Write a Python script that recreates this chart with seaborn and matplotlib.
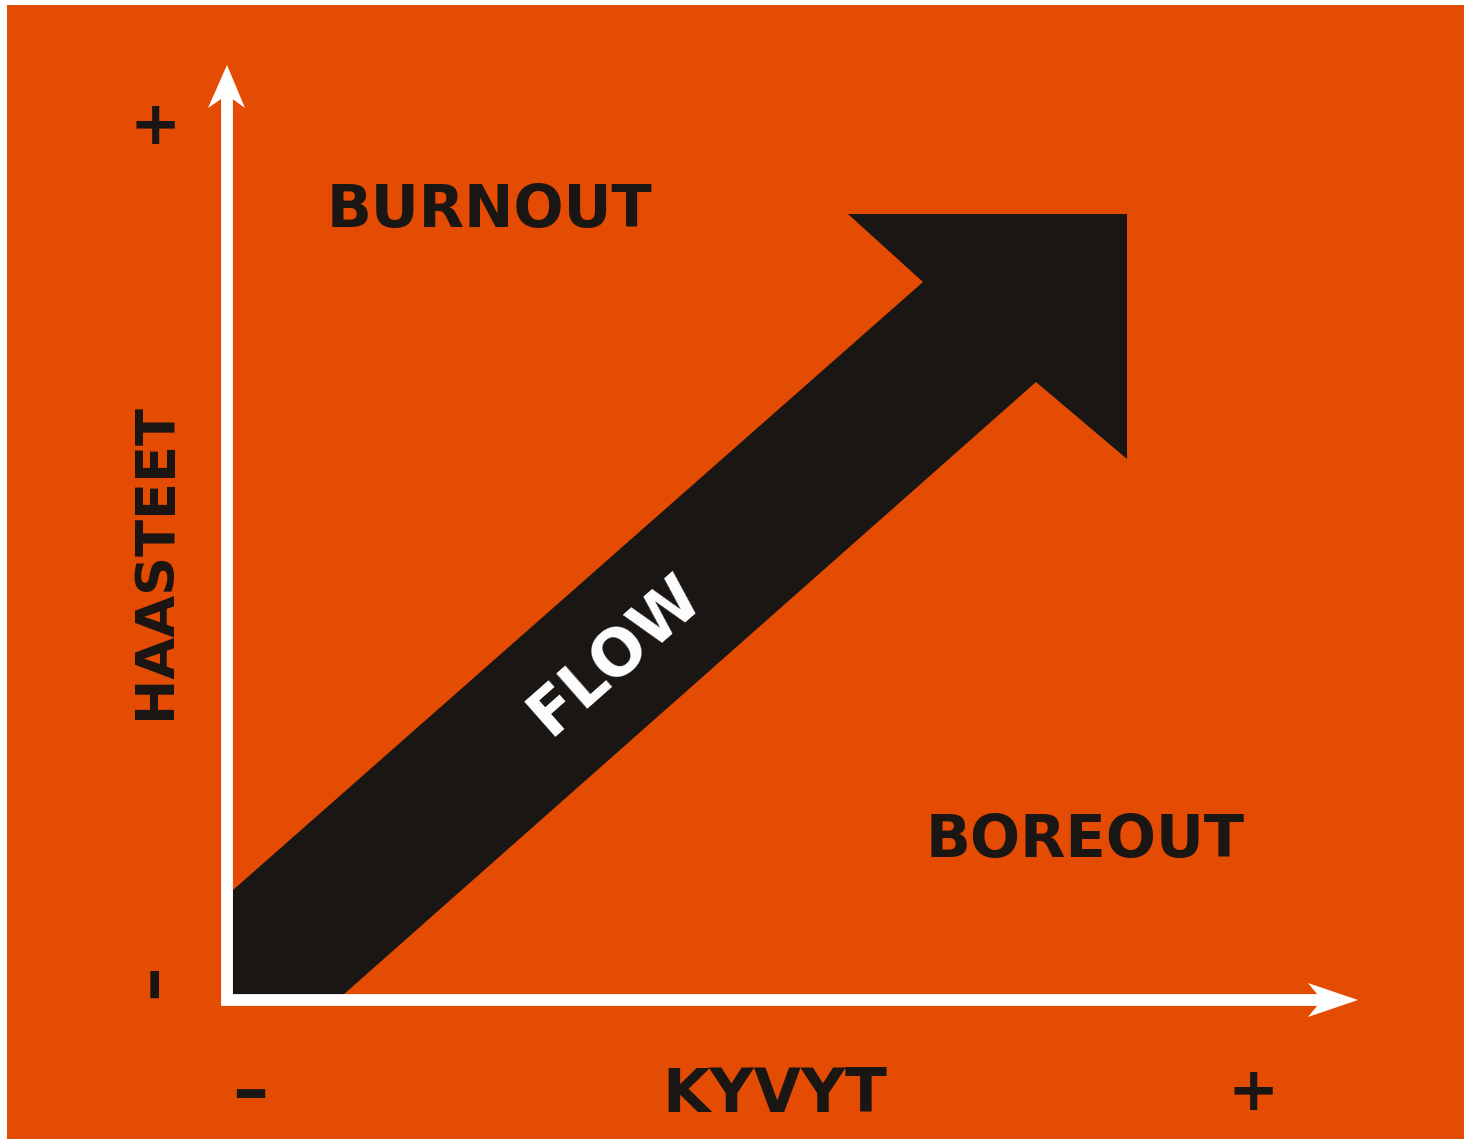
import matplotlib.pyplot as plt
import pandas as pd
import seaborn as sns

# Colours
orange = '#E44B03'
black = '#1A1614'

# Diagram coordinates: origin at the corner of the white axes
# Flow arrow outline (x = skills, y = challenges)
flow_x = [6, 6, 696, 621, 900, 900, 809, 116]
flow_y = [5, 110, 718, 786, 786, 541, 618, 5]

# White axis lines
axis_x = [0, 0, 1095]
axis_y = [905, 0, 0]

# Axis arrow heads (tip, barb, notch, barb)
head_up_x = [0, -19, 0, 18]
head_up_y = [935, 892, 905, 892]
head_right_x = [1131, 1081, 1095, 1081]
head_right_y = [0, 17, 0, -17]

# Labels
quadrant_labels = ['BURNOUT', 'BOREOUT']
quadrant_x = [262, 858]
quadrant_y = [789, 160]

sns.set_theme(style='white')
plt.rcParams['font.family'] = ['DejaVu Sans']

fig = plt.figure(figsize=(14.64, 11.39), dpi=100, facecolor='white')
ax = fig.add_axes([7 / 1464, 0, 1457 / 1464, 1134 / 1139])
ax.set_facecolor(orange)
ax.set_xlim(-220, 1237)
ax.set_ylim(-139, 995)
for s in ax.spines.values():
  s.set_visible(False)
ax.set_xticks([])
ax.set_yticks([])

# Flow arrow
ax.fill(flow_x, flow_y, color=black, lw=0, zorder=2)

# Axes
df_axis = pd.DataFrame({'x': axis_x, 'y': axis_y})
sns.lineplot(df_axis, x='x', y='y', estimator=None, sort=False,
             color='white', lw=8.5, ax=ax, zorder=3)
ax.lines[-1].set_solid_joinstyle('miter')
ax.lines[-1].set_solid_capstyle('projecting')
ax.fill(head_up_x, head_up_y, color='white', lw=0, zorder=3)
ax.fill(head_right_x, head_right_y, color='white', lw=0, zorder=3)

# Quadrant labels
for label, x, y in zip(quadrant_labels, quadrant_x, quadrant_y):
  ax.text(x, y, label, fontsize=42.5, fontweight='bold', color=black,
          ha='center', va='center')

ax.text(548, -95, 'KYVYT', fontsize=44, fontweight='bold', color=black,
        ha='center', va='center')
ax.text(-72, 439, 'HAASTEET', fontsize=39, fontweight='bold', color=black,
        ha='center', va='center', rotation=90)

# Ends of the scales
ax.text(-72, 872, '+', fontsize=44, fontweight='bold', color=black,
        ha='center', va='center')
ax.text(-75, 19, '–', fontsize=50, fontweight='bold', color=black,
        ha='center', va='center', rotation=90)
ax.text(23, -93, '–', fontsize=52, fontweight='bold', color=black,
        ha='center', va='center')
ax.text(1026, -93, '+', fontsize=44, fontweight='bold', color=black,
        ha='center', va='center')

# Flow label along the arrow
ax.text(388, 345, 'FLOW', fontsize=46, fontweight='bold', color='white',
        ha='center', va='center', rotation=41.4, zorder=4)

fig.savefig('out.png', dpi=100, facecolor=fig.get_facecolor())
